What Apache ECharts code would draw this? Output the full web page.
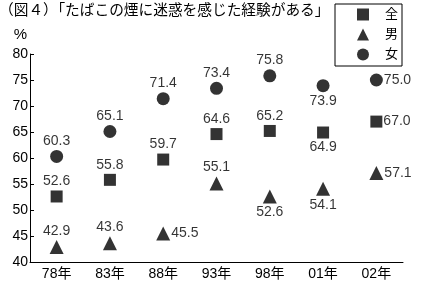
<!DOCTYPE html>
<html><head><meta charset="utf-8">
<script src="https://cdn.jsdelivr.net/npm/echarts@6/dist/echarts.min.js"></script>
<style>html,body{margin:0;padding:0;background:#fff}#c{width:422px;height:289px}</style>
</head><body><div id="c"></div>
<script>
const categories = ['78年','83年','88年','93年','98年','01年','02年'];
const seriesNames = ['全','男','女'];
const totalValues = [52.6, 55.8, 59.7, 64.6, 65.2, 64.9, 67.0];
const maleValues = [42.9, 43.6, 45.5, 55.1, 52.6, 54.1, 57.1];
const femaleValues = [60.3, 65.1, 71.4, 73.4, 75.8, 73.9, 75.0];
const totalLabelPos = ['top','top','top','top','top','bottom','right'];
const maleLabelPos = ['top','top','right','top','bottom','bottom','right'];
const femaleLabelPos = ['top','top','top','top','top','bottom','right'];
const titleText = '（図４）「たばこの煙に迷惑を感じた経験がある」';

const FONT = "'Liberation Sans', 'Noto Sans CJK JP', sans-serif";
function mk(values, pos) {
  return values.map((v, i) => ({
    value: v,
    label: { position: pos[i], distance: pos[i] === 'right' ? 1 : 2 }
  }));
}
const chart = echarts.init(document.getElementById('c'), null, { renderer: 'canvas' });
const labelCommon = {
  show: true, color: '#000', fontSize: 14, fontFamily: FONT,
  formatter: p => p.value.toFixed(1)
};
chart.setOption({
  animation: false,
  backgroundColor: '#fff',
  textStyle: { fontFamily: FONT },
  title: {
    text: titleText, left: -1, top: 4, padding: 0,
    textStyle: { fontSize: 14.7, fontWeight: 'normal', color: '#000', fontFamily: FONT }
  },
  legend: {
    orient: 'vertical', left: 335, top: 4,
    padding: [4, 4, 5, 22], itemGap: 7, itemWidth: 12, itemHeight: 12,
    borderColor: '#000', borderWidth: 1, borderRadius: 0,
    textStyle: { fontSize: 13, color: '#000', fontFamily: FONT, padding: [0, 0, 0, 11] },
    data: [
      { name: '全', icon: 'rect' },
      { name: '男', icon: 'triangle' },
      { name: '女', icon: 'circle' }
    ]
  },
  grid: { left: 30, right: 19, top: 54, bottom: 27 },
  xAxis: {
    type: 'category', data: categories, boundaryGap: true,
    axisLine: { lineStyle: { color: '#000', width: 1 } },
    axisTick: { inside: true, length: 4, lineStyle: { color: '#000' } },
    axisLabel: { color: '#000', fontSize: 14, fontFamily: FONT, margin: 5 },
    splitLine: { show: false }
  },
  yAxis: {
    type: 'value', min: 40, max: 80, interval: 5,
    name: '%', nameLocation: 'end', nameGap: 12,
    nameTextStyle: { color: '#000', fontSize: 15, fontFamily: FONT, align: 'right', padding: [0, 3, 0, 0] },
    axisLine: { show: true, lineStyle: { color: '#000', width: 1 } },
    axisTick: { show: true, inside: true, length: 4, lineStyle: { color: '#000' } },
    axisLabel: { color: '#000', fontSize: 14, fontFamily: FONT, margin: 2 },
    splitLine: { show: false }
  },
  series: [
    { name: seriesNames[0], type: 'scatter', symbol: 'rect', symbolSize: 12,
      itemStyle: { color: '#000' }, label: labelCommon, data: mk(totalValues, totalLabelPos) },
    { name: seriesNames[1], type: 'scatter', symbol: 'triangle', symbolSize: 14,
      itemStyle: { color: '#000' }, label: labelCommon, data: mk(maleValues, maleLabelPos) },
    { name: seriesNames[2], type: 'scatter', symbol: 'circle', symbolSize: 13,
      itemStyle: { color: '#000' }, label: labelCommon, data: mk(femaleValues, femaleLabelPos) }
  ]
});
</script></body></html>
